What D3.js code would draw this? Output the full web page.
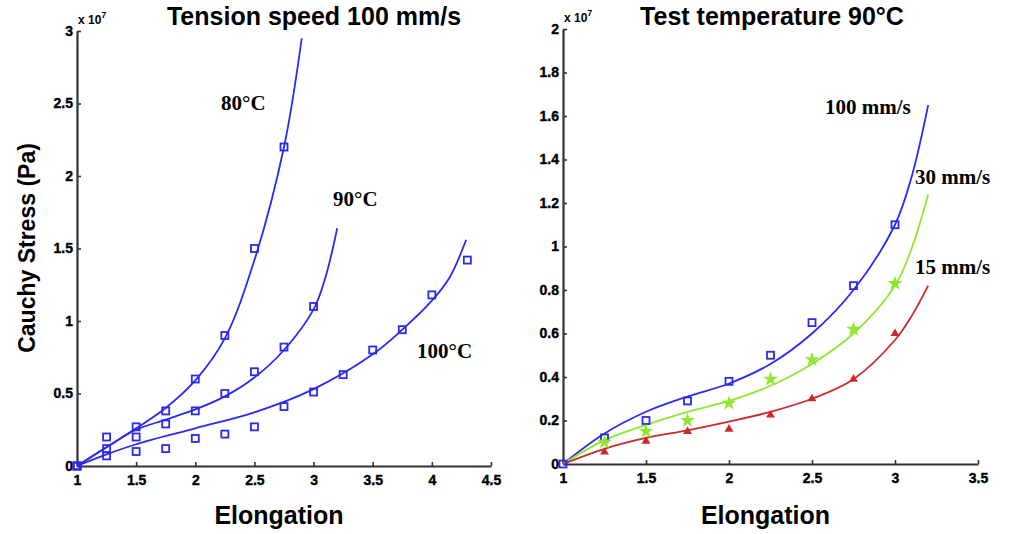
<!DOCTYPE html>
<html lang="en">
<head>
  <meta charset="UTF-8">
  <title>Cauchy stress vs elongation</title>
  <style>
    html, body { margin: 0; overflow: hidden; width: 100%; height: 100%; background: white; }
    svg { position: absolute; top: 0; left: 0; }
  </style>
</head>
<body>
  <svg width="1017" height="534"></svg>
</body>
<script src="https://d3js.org/d3.v7.min.js"></script>
<script type="text/javascript">
  // values in units of 1e7 Pa
  const xTicksLeft = [1, 1.5, 2, 2.5, 3, 3.5, 4, 4.5]
  const yTicksLeft = [0, 0.5, 1, 1.5, 2, 2.5, 3]
  const xTicksRight = [1, 1.5, 2, 2.5, 3, 3.5]
  const yTicksRight = [0, 0.2, 0.4, 0.6, 0.8, 1, 1.2, 1.4, 1.6, 1.8, 2]

  // left panel: measured points
  const pts80 = [[1, 0], [1.25, 0.2], [1.5, 0.27], [1.75, 0.38], [2, 0.6], [2.25, 0.9], [2.5, 1.5], [2.75, 2.2]]
  const pts90 = [[1, 0], [1.25, 0.12], [1.5, 0.2], [1.75, 0.29], [2, 0.38], [2.25, 0.5], [2.5, 0.65], [2.75, 0.82], [3, 1.1]]
  const pts100 = [[1, 0], [1.25, 0.07], [1.5, 0.1], [1.75, 0.12], [2, 0.19], [2.25, 0.22], [2.5, 0.27], [2.75, 0.41],
    [3, 0.51], [3.25, 0.63], [3.5, 0.8], [3.75, 0.94], [4, 1.18], [4.3, 1.42]]
  // left panel: fitted curves
  const fit80 = [[1, 0], [1.25, 0.13], [1.5, 0.26], [1.75, 0.4], [2, 0.59], [2.25, 0.88], [2.5, 1.42], [2.75, 2.2], [2.9, 2.95]]
  const fit90 = [[1, 0], [1.25, 0.13], [1.5, 0.25], [1.75, 0.32], [2, 0.39], [2.25, 0.48], [2.5, 0.61], [2.75, 0.8], [3, 1.08], [3.1, 1.3], [3.2, 1.64]]
  const fit100 = [[1, 0], [1.25, 0.08], [1.5, 0.15], [2, 0.26], [2.5, 0.37], [3, 0.53], [3.5, 0.77], [3.75, 0.94], [4, 1.14], [4.15, 1.3], [4.29, 1.56]]

  // right panel: measured points
  const ptsV100 = [[1, 0], [1.25, 0.12], [1.5, 0.2], [1.75, 0.29], [2, 0.38], [2.25, 0.5], [2.5, 0.65], [2.75, 0.82], [3, 1.1]]
  const ptsV30 = [[1.25, 0.1], [1.5, 0.15], [1.75, 0.2], [2, 0.28], [2.25, 0.39], [2.5, 0.48], [2.75, 0.62], [3, 0.83]]
  const ptsV15 = [[1.25, 0.055], [1.5, 0.105], [1.75, 0.15], [2, 0.16], [2.25, 0.225], [2.5, 0.3], [2.75, 0.39], [3, 0.6]]
  // right panel: fitted curves
  const fitV100 = [[1, 0], [1.25, 0.14], [1.5, 0.24], [1.75, 0.31], [2, 0.37], [2.25, 0.46], [2.5, 0.6], [2.75, 0.8], [3, 1.1], [3.1, 1.32], [3.2, 1.65]]
  const fitV30 = [[1, 0], [1.25, 0.11], [1.5, 0.18], [1.75, 0.24], [2, 0.29], [2.25, 0.36], [2.5, 0.46], [2.75, 0.6], [3, 0.82], [3.1, 0.99], [3.2, 1.24]]
  const fitV15 = [[1, 0], [1.25, 0.07], [1.5, 0.12], [1.75, 0.155], [2, 0.195], [2.25, 0.24], [2.5, 0.3], [2.75, 0.39], [3, 0.57], [3.1, 0.68], [3.2, 0.82]]

  const BLUE = '#2a2af0', GREEN = '#8ee830', RED = '#cc2a2a'
  const SANS = 'Liberation Sans, Arial, sans-serif'
  const SERIF = 'Liberation Serif, Times New Roman, serif'
  const svg = d3.select('svg')

  function panel(opt) {
    const x = d3.scaleLinear().domain(opt.xDomain).range(opt.xRange)
    const y = d3.scaleLinear().domain(opt.yDomain).range(opt.yRange)
    const g = svg.append('g')

    g.append('g')
      .attr('transform', `translate(0,${opt.yRange[0]})`)
      .call(d3.axisBottom(x).tickValues(opt.xTicks).tickSizeInner(-4).tickSizeOuter(0).tickPadding(9)
        .tickFormat(d3.format('~g')))
    const yAxis = g.append('g')
      .attr('transform', `translate(${opt.xRange[0]},0)`)
      .call(d3.axisLeft(y).tickValues(opt.yTicks).tickSizeInner(-4).tickSizeOuter(0)
        .tickFormat(d3.format('~g')))
    g.selectAll('.domain').attr('stroke', '#333').attr('stroke-width', 2.2)
    g.selectAll('.tick line').attr('stroke', '#333').attr('stroke-width', 1.6)
    g.selectAll('.tick text')
      .attr('font-family', SANS).attr('font-weight', 'bold').attr('font-size', 14).attr('fill', '#000')
      .attr('stroke', '#000').attr('stroke-width', 0.4)
    yAxis.selectAll('.tick text').attr('x', -4)

    const line = d3.line().x(d => x(d[0])).y(d => y(d[1])).curve(d3.curveCatmullRom.alpha(0.5))
    opt.series.forEach(s => {
      g.append('path').datum(s.fit)
        .attr('d', line).attr('fill', 'none').attr('stroke', s.color).attr('stroke-width', 1.8)
    })
    opt.series.forEach(s => {
      const m = g.selectAll(null).data(s.pts).enter()
      if (s.marker === 'square') {
        m.append('rect')
          .attr('x', d => x(d[0]) - 3.5).attr('y', d => y(d[1]) - 3.5)
          .attr('width', 7).attr('height', 7)
          .attr('fill', 'none').attr('stroke', s.color).attr('stroke-width', 1.8)
      } else {
        const sym = d3.symbol().type(s.marker === 'star' ? d3.symbolStar : d3.symbolTriangle)
          .size(s.marker === 'star' ? 70 : 34)
        m.append('path')
          .attr('transform', d => `translate(${x(d[0])},${y(d[1])})`)
          .attr('d', sym).attr('fill', s.color)
      }
    })

    // x 10^7 multiplier
    const mult = g.append('text')
      .attr('x', opt.xRange[0] + 1).attr('y', opt.yRange[1] - 7)
      .attr('font-family', SANS).attr('font-weight', 'bold').attr('font-size', 12)
    mult.append('tspan').text('x 10')
    mult.append('tspan').attr('dy', -6).attr('font-size', 9).text('7')

    svg.append('text')
      .attr('x', opt.titleX).attr('y', 25).attr('text-anchor', 'middle')
      .attr('font-family', SANS).attr('font-weight', 'bold').attr('font-size', 25)
      .text(opt.title)
    svg.append('text')
      .attr('x', (opt.xRange[0] + opt.xRange[1]) / 2 - 5).attr('y', 524).attr('text-anchor', 'middle')
      .attr('font-family', SANS).attr('font-weight', 'bold').attr('font-size', 25)
      .text('Elongation')

    opt.labels.forEach(l => {
      svg.append('text').attr('x', l.x).attr('y', l.y)
        .attr('font-family', SERIF).attr('font-weight', 'bold').attr('font-size', 21)
        .text(l.text)
    })
  }

  panel({
    xDomain: [1, 4.5], xRange: [77, 491], yDomain: [0, 3], yRange: [466, 31],
    xTicks: xTicksLeft, yTicks: yTicksLeft,
    title: 'Tension speed 100 mm/s', titleX: 314,
    series: [
      { fit: fit80, pts: pts80, color: BLUE, marker: 'square' },
      { fit: fit90, pts: pts90, color: BLUE, marker: 'square' },
      { fit: fit100, pts: pts100, color: BLUE, marker: 'square' }
    ],
    labels: [
      { text: '80°C', x: 221, y: 110 },
      { text: '90°C', x: 333, y: 206 },
      { text: '100°C', x: 417, y: 358 }
    ]
  })

  panel({
    xDomain: [1, 3.5], xRange: [563, 978], yDomain: [0, 2], yRange: [464, 29],
    xTicks: xTicksRight, yTicks: yTicksRight,
    title: 'Test temperature 90°C', titleX: 772,
    series: [
      { fit: fitV100, pts: ptsV100, color: BLUE, marker: 'square' },
      { fit: fitV30, pts: ptsV30, color: GREEN, marker: 'star' },
      { fit: fitV15, pts: ptsV15, color: RED, marker: 'triangle' }
    ],
    labels: [
      { text: '100 mm/s', x: 825, y: 114 },
      { text: '30 mm/s', x: 915, y: 184 },
      { text: '15 mm/s', x: 915, y: 274 }
    ]
  })

  svg.append('text')
    .attr('transform', 'translate(35,248) rotate(-90)').attr('text-anchor', 'middle')
    .attr('font-family', SANS).attr('font-weight', 'bold').attr('font-size', 23)
    .text('Cauchy Stress (Pa)')
</script>
</html>
